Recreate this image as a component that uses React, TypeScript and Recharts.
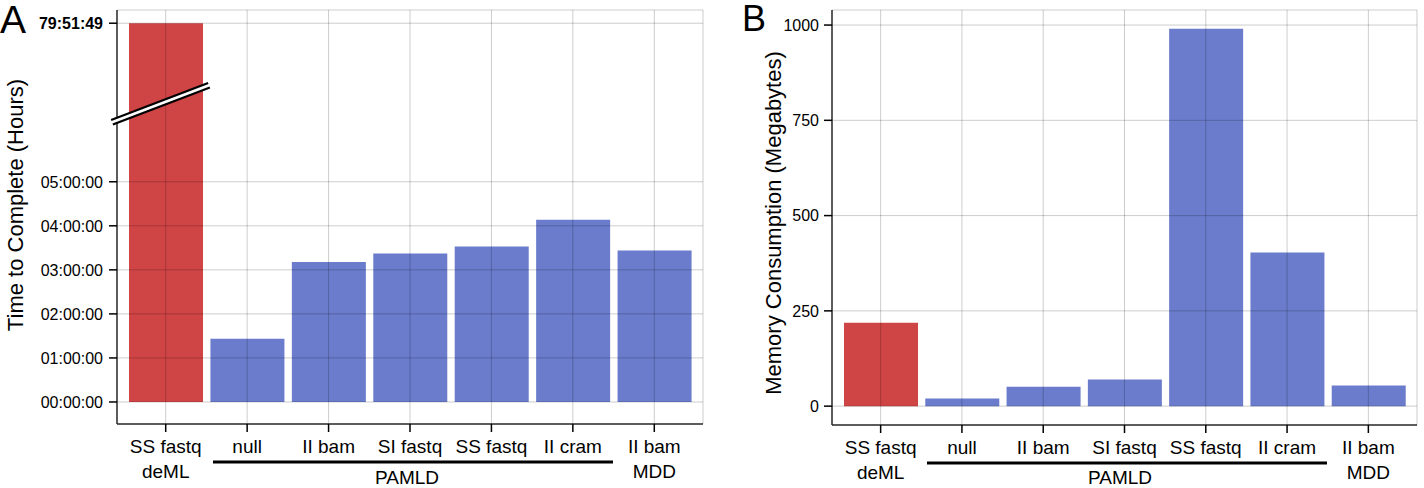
import { BarChart, Bar, XAxis, YAxis, CartesianGrid, Cell } from 'recharts';

const FONT = '"Liberation Sans", Arial, Helvetica, sans-serif';
const RED = '#cf4444';
const BLUE = '#6a7ccb';

// categories (a newline splits a tick label over two lines)
const categories = ['SS fastq\ndeML', 'null', 'II bam', 'SI fastq', 'SS fastq', 'II cram', 'II bam\nMDD'];
const tools = ['deML', 'PAMLD', 'PAMLD', 'PAMLD', 'PAMLD', 'PAMLD', 'MDD'];

// panel A: wall time (hh:mm:ss)
const timeToComplete = ['79:51:49', '01:26:02', '03:10:48', '03:22:12', '03:31:48', '04:08:24', '03:26:24'];
const timeTicks = ['00:00:00', '01:00:00', '02:00:00', '03:00:00', '04:00:00', '05:00:00', '79:51:49'];

// panel B: memory (MB)
const memoryMB = [219, 20, 51, 70, 990, 403, 54];
const memoryTicks = [0, 250, 500, 750, 1000];

function toHours(t: string) {
  const [h, m, s] = t.split(':').map(Number);
  return h + m / 60 + s / 3600;
}

// broken y axis: linear up to BREAK_AT hours, then compressed so the top tick sits at TOP_POS
const BREAK_AT = 6;
const TOP_POS = 8.6;
const TOP_HOURS = toHours(timeTicks[timeTicks.length - 1]);
function axisPos(hours: number) {
  if (hours <= BREAK_AT) return hours;
  return BREAK_AT + ((hours - BREAK_AT) * (TOP_POS - BREAK_AT)) / (TOP_HOURS - BREAK_AT);
}

const timeTickPos = timeTicks.map((t) => axisPos(toHours(t)));

const timeData = categories.map((category, i) => ({
  category,
  tool: tools[i],
  pos: axisPos(toHours(timeToComplete[i])),
}));

const memoryData = categories.map((category, i) => ({
  category,
  tool: tools[i],
  mb: memoryMB[i],
}));

function CategoryTick(props: any) {
  const { x, y, payload } = props;
  const lines = String(payload.value).split('\n');
  return (
    <g>
      {lines.map((line, k) => (
        <text key={k} x={x} y={y + 19 + k * 25} textAnchor="middle" fontSize={19} fontFamily={FONT} fill="#000">
          {line}
        </text>
      ))}
    </g>
  );
}

function TimeTick(props: any) {
  const { x, y, payload } = props;
  let idx = 0;
  timeTickPos.forEach((p, i) => {
    if (Math.abs(p - payload.value) < Math.abs(timeTickPos[idx] - payload.value)) idx = i;
  });
  const isTop = idx === timeTicks.length - 1;
  return (
    <text x={x} y={y} dy="0.36em" textAnchor="end" fontSize={16} fontWeight={isTop ? 700 : 400} fontFamily={FONT} fill="#000">
      {timeTicks[idx]}
    </text>
  );
}

function MemoryTick(props: any) {
  const { x, y, payload } = props;
  return (
    <text x={x} y={y} dy="0.36em" textAnchor="end" fontSize={16} fontFamily={FONT} fill="#000">
      {payload.value}
    </text>
  );
}

const tickLine = { stroke: '#000', strokeWidth: 1.5 };
const axisLine = { stroke: '#333', strokeWidth: 1.5 };

export default function App() {
  return (
    <div style={{ position: 'absolute', left: 0, top: 0, width: 1424, height: 488, background: '#fff', fontFamily: FONT }}>
      <div style={{ position: 'absolute', left: 0, top: 0 }}>
        <BarChart width={720} height={488} data={timeData} margin={{ top: 10, right: 17, bottom: 0, left: 7 }}>
          <XAxis
            dataKey="category"
            height={64}
            interval={0}
            padding={{ left: 8, right: 8 }}
            tickSize={8}
            tickLine={tickLine}
            axisLine={axisLine}
            tick={<CategoryTick />}
          />
          <YAxis
            type="number"
            domain={[-0.5, 8.9]}
            allowDataOverflow
            ticks={timeTickPos}
            interval={0}
            width={110}
            tickSize={8}
            tickMargin={6}
            tickLine={tickLine}
            axisLine={axisLine}
            tick={<TimeTick />}
          />
          <Bar dataKey="pos" barSize={74} isAnimationActive={false}>
            {timeData.map((d) => (
              <Cell key={d.category + d.tool} fill={d.tool === 'deML' ? RED : BLUE} />
            ))}
          </Bar>
          <CartesianGrid stroke="#000" strokeOpacity={0.2} zIndex={1000} />
        </BarChart>
      </div>

      <div style={{ position: 'absolute', left: 720, top: 0 }}>
        <BarChart width={704} height={488} data={memoryData} margin={{ top: 10, right: 7, bottom: 0, left: 12 }}>
          <XAxis
            dataKey="category"
            height={63}
            interval={0}
            padding={{ left: 8, right: 8 }}
            tickSize={8}
            tickLine={tickLine}
            axisLine={axisLine}
            tick={<CategoryTick />}
          />
          <YAxis
            type="number"
            domain={[-49.5, 1039.5]}
            allowDataOverflow
            ticks={memoryTicks}
            interval={0}
            width={100}
            tickSize={8}
            tickMargin={5}
            tickLine={tickLine}
            axisLine={axisLine}
            tick={<MemoryTick />}
          />
          <Bar dataKey="mb" barSize={74} isAnimationActive={false}>
            {memoryData.map((d) => (
              <Cell key={d.category + d.tool} fill={d.tool === 'deML' ? RED : BLUE} />
            ))}
          </Bar>
          <CartesianGrid stroke="#000" strokeOpacity={0.2} zIndex={1000} />
        </BarChart>
      </div>

      {/* panel letters, axis titles, PAMLD brackets and the axis break */}
      <svg width={1424} height={488} style={{ position: 'absolute', left: 0, top: 0, pointerEvents: 'none' }} fontFamily={FONT}>
        <text x={0} y={33} fontSize={39} fill="#000">A</text>
        <text x={742} y={31} fontSize={36} fill="#000">B</text>

        <text transform="translate(23,205) rotate(-90)" textAnchor="middle" fontSize={22} fill="#000">
          Time to Complete (Hours)
        </text>
        <text transform="translate(781,223) rotate(-90)" textAnchor="middle" fontSize={22} fill="#000">
          Memory Consumption (Megabytes)
        </text>

        <line x1={213} y1={462} x2={613} y2={462} stroke="#000" strokeWidth={3} />
        <text x={407} y={484} textAnchor="middle" fontSize={19} fill="#000">PAMLD</text>
        <line x1={927} y1={463} x2={1327} y2={463} stroke="#000" strokeWidth={3} />
        <text x={1120} y={484} textAnchor="middle" fontSize={19} fill="#000">PAMLD</text>

        <line x1={112} y1={122.3} x2={209} y2={85.3} stroke="#000" strokeWidth={7} />
        <line x1={110} y1={123} x2={211} y2={84.5} stroke="#fff" strokeWidth={2.5} />
      </svg>
    </div>
  );
}
